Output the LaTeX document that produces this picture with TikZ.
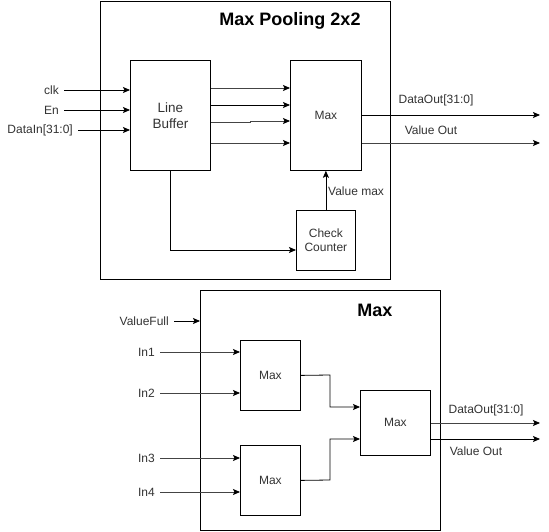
\documentclass[tikz,border=0pt]{standalone}
\usepackage{fontspec}
\setmainfont{Liberation Sans}
\usetikzlibrary{arrows.meta}
\definecolor{txt}{HTML}{333333}
\definecolor{ln}{HTML}{444444}
\begin{document}
\begin{tikzpicture}[x=1pt,y=-1pt,
  blk/.style={draw=black,line width=0.8pt,fill=white,inner sep=0pt,text=txt},
  frame/.style={draw=black,line width=0.8pt},
  lbl/.style={text=txt,font=\fontsize{12}{14}\selectfont,inner sep=1pt},
  ttl/.style={text=black,font=\fontsize{18}{21}\selectfont\bfseries,inner sep=0pt},
  arr/.style={draw=black,line width=0.8pt,-{Stealth[length=7pt,width=6pt,inset=1.5pt]}},
  garr/.style={draw=ln,line width=0.8pt,-{Stealth[length=7pt,width=6pt,inset=1.5pt,color=black]}},
  wire/.style={draw=black,line width=0.8pt}]
\useasboundingbox (0,0) rectangle (549,532);
% ===== top: Max Pooling 2x2 =====
\draw[frame] (100,1) rectangle (390,279);
\node[ttl] (t1) at (290,21) {Max Pooling 2x2};
\node[blk,minimum width=80,minimum height=110,anchor=north west,
  font=\fontsize{13.5}{16}\selectfont,align=center] (lb) at (130,60) {Line\\Buffer};
\node[blk,minimum width=71,minimum height=110,anchor=north west,
  font=\fontsize{12}{14}\selectfont] (mx) at (290,60) {Max};
\node[blk,minimum width=59,minimum height=60,anchor=north west,
  font=\fontsize{12}{14}\selectfont,align=center] (cc) at (296,210) {Check\\Counter};
% inputs
\node[lbl,anchor=east] (clk) at (60,90) {clk};
\node[lbl,anchor=east] (en) at (60,110) {En};
\node[lbl,anchor=east] (din) at (74,130) {DataIn[31:0]};
\draw[arr] (clk.east)+(4,0) -- (lb.west |- clk);
\draw[arr] (en.east)+(4,0) -- (lb.west |- en);
\draw[arr] (din.east)+(4,0) -- (lb.west |- din);
% LB -> Max
\draw[garr] (lb.east |- 0,88) -- (mx.west |- 0,88);
\draw[arr] (lb.east |- 0,105) -- (mx.west |- 0,105);
\draw[garr] (lb.east |- 0,122.5) -- (250,122.5) -- (250,121) -- (mx.west |- 0,121);
\draw[garr] (lb.east |- 0,143) -- (mx.west |- 0,143);
% outputs
\coordinate (o1) at (540,115);
\coordinate (o2) at (540,143);
\draw[arr] (mx.east |- o1) -- (o1);
\draw[garr] (mx.east |- o2) -- (o2);
\node[lbl] (do1) at (436,100) {DataOut[31:0]};
\node[lbl] (vo1) at (431,130) {Value Out};
% check counter
\draw[arr] (cc.north) -- (mx.south -| cc.north);
\node[lbl,anchor=west] (vm) at (327,191) {Value max};
\draw[arr] (lb.south -| 170,0) -- (170,250) -- (cc.west |- 0,250);
% ===== bottom: Max =====
\draw[frame] (200,290) rectangle (440,530);
\node[ttl] (t2) at (375,310) {Max};
\node[lbl,anchor=east] (vf) at (170,321) {ValueFull};
\draw[arr] (vf.east)+(4,0) -- (200,321);
\node[blk,minimum width=60,minimum height=70,anchor=north west,
  font=\fontsize{12}{14}\selectfont] (m1) at (240,340) {Max};
\node[blk,minimum width=60,minimum height=70,anchor=north west,
  font=\fontsize{12}{14}\selectfont] (m2) at (240,445) {Max};
\node[blk,minimum width=70,minimum height=65,anchor=north west,
  font=\fontsize{12}{14}\selectfont] (m3) at (360,390) {Max};
\node[lbl,anchor=east] (i1) at (156,352) {In1};
\node[lbl,anchor=east] (i2) at (156,393) {In2};
\node[lbl,anchor=east] (i3) at (156,458) {In3};
\node[lbl,anchor=east] (i4) at (156,492) {In4};
\draw[garr] (i1.east)+(4,0) -- (m1.west |- i1);
\draw[garr] (i2.east)+(4,0) -- (m1.west |- i2);
\draw[garr] (i3.east)+(4,0) -- (m2.west |- i3);
\draw[garr] (i4.east)+(4,0) -- (m2.west |- i4);
\draw[arr] (m1.east) -- (330,375) -- (330,407) -- (m3.west |- 0,407);
\draw[arr] (m2.east) -- (330,480) -- (330,439) -- (m3.west |- 0,439);
\coordinate (o3) at (540,423);
\coordinate (o4) at (540,439);
\draw[garr] (m3.east |- o3) -- (o3);
\draw[arr] (m3.east |- o4) -- (o4);
\node[lbl] (do2) at (486,410) {DataOut[31:0]};
\node[lbl] (vo2) at (476,451) {Value Out};
\end{tikzpicture}
\end{document}
